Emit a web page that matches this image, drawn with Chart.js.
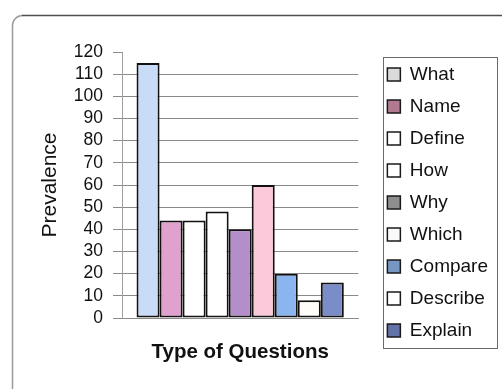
<!DOCTYPE html>
<html>
<head>
<meta charset="utf-8">
<script src="https://cdn.jsdelivr.net/npm/chart.js@4/dist/chart.umd.min.js"></script>
<style>
  html, body { margin: 0; padding: 0; background: #ffffff; }
  #wrap { width: 502px; height: 389px; }
</style>
</head>
<body>
<div id="wrap"><canvas id="chart" width="502" height="389"></canvas></div>
<script>
// Question types and how often each one occurs
const questionTypes = ['What', 'Name', 'Define', 'How', 'Why', 'Which', 'Compare', 'Describe', 'Explain'];
const prevalence = [115, 44, 44, 48, 40, 60, 20, 8, 16];

// Value axis range
const axisMin = 0;
const axisMax = 120;
const axisStep = 10;

// Bar fills and the swatch fills used in the key
const barColors = ['#c9dcf7', '#e1a1cf', '#ffffff', '#ffffff', '#b48dcb', '#fbc9d9', '#8ab5ef', '#fffdf8', '#7b8dc9'];
const swatchColors = ['#dadada', '#b27a90', '#ffffff', '#ffffff', '#8e8e8e', '#fafafa', '#7597c2', '#ffffff', '#6373a8'];

const FONT = 'Arial, "Liberation Sans", sans-serif';
const INK = '#111111';

// Frame around the whole figure and box around the key
const framePlugin = {
  id: 'frame',
  beforeDraw(chart) {
    const ctx = chart.ctx;
    ctx.save();
    ctx.fillStyle = '#ffffff';
    ctx.fillRect(0, 0, chart.width, chart.height);
    ctx.lineWidth = 1.5;
    ctx.strokeStyle = '#9a9a9a';
    ctx.beginPath();
    ctx.moveTo(12.5, 400);
    ctx.lineTo(12.5, 26);
    ctx.arcTo(12.5, 15.5, 23, 15.5, 10);
    ctx.stroke();
    ctx.strokeStyle = '#505050';
    ctx.beginPath();
    ctx.moveTo(22, 15.5);
    ctx.lineTo(520, 15.5);
    ctx.stroke();
    ctx.restore();
  },
  afterDraw(chart) {
    const lg = chart.legend;
    if (!lg || !lg.legendHitBoxes || !lg.legendHitBoxes.length) return;
    const boxes = lg.legendHitBoxes;
    const first = boxes[0];
    const last = boxes[boxes.length - 1];
    const top = first.top + first.height / 2 - 18;
    const bottom = last.top + last.height / 2 + 17;
    const left = first.left - 4;
    const right = lg.left + lg.width - 0.5;
    const ctx = chart.ctx;
    ctx.save();
    ctx.strokeStyle = '#6a6a6a';
    ctx.lineWidth = 1;
    ctx.strokeRect(Math.round(left) + 0.5, Math.round(top) + 0.5, Math.round(right - left), Math.round(bottom - top));
    ctx.restore();
  }
};

const datasets = questionTypes.map((name, i) => ({
  label: name,
  data: [prevalence[i]],
  backgroundColor: barColors[i],
  borderColor: '#111111',
  borderWidth: 2,
  borderSkipped: false
}));

new Chart(document.getElementById('chart'), {
  type: 'bar',
  data: { labels: [''], datasets },
  options: {
    responsive: false,
    animation: false,
    devicePixelRatio: 1,
    layout: { padding: { left: 38, top: 52, bottom: 24, right: 4 } },
    datasets: { bar: { categoryPercentage: 0.877, barPercentage: 1 } },
    plugins: {
      tooltip: { enabled: false },
      legend: {
        position: 'right',
        align: 'start',
        maxWidth: 124,
        labels: {
          color: INK,
          font: { family: FONT, size: 19 },
          boxWidth: 13,
          boxHeight: 13,
          padding: 13,
          generateLabels(chart) {
            return chart.data.datasets.map((ds, i) => ({
              text: ds.label,
              fillStyle: swatchColors[i],
              strokeStyle: '#1a1a1a',
              lineWidth: 1.5,
              fontColor: INK,
              hidden: false,
              datasetIndex: i
            }));
          }
        }
      }
    },
    scales: {
      x: {
        type: 'category',
        grid: { display: false, drawTicks: false },
        border: { display: true, color: '#8a8a8a', width: 1 },
        ticks: { display: false },
        title: {
          display: true,
          text: 'Type of Questions',
          color: INK,
          font: { family: FONT, size: 20.5, weight: 'bold' },
          padding: 0
        },
        afterFit(scale) { scale.height = 47; }
      },
      y: {
        min: axisMin,
        max: axisMax,
        grid: {
          color: (c) => (c.tick && c.tick.value === axisMax) ? 'rgba(0,0,0,0)' : '#8a8a8a',
          lineWidth: 1,
          tickLength: 9,
          tickColor: '#8a8a8a'
        },
        border: { display: true, color: '#a0a0a0', width: 1 },
        ticks: {
          stepSize: axisStep,
          autoSkip: false,
          padding: 10,
          color: INK,
          font: { family: FONT, size: 17.5 }
        },
        title: {
          display: true,
          text: 'Prevalence',
          color: INK,
          font: { family: FONT, size: 21 },
          padding: 0
        },
        afterFit(scale) { scale.width = 84; }
      },
      gap: {
        type: 'linear',
        position: 'right',
        display: true,
        grid: { display: false, drawTicks: false },
        border: { display: false },
        ticks: { display: false },
        afterFit(scale) { scale.width = 16; }
      }
    }
  },
  plugins: [framePlugin]
});
</script>
</body>
</html>
